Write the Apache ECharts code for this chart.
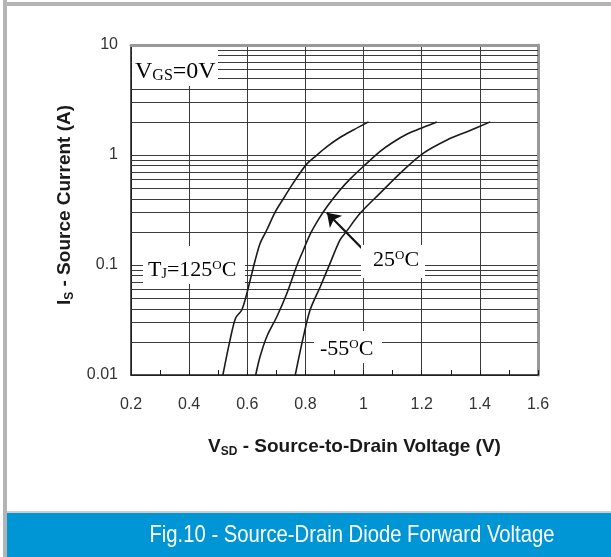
<!DOCTYPE html>
<html><head><meta charset="utf-8">
<script src="https://cdn.jsdelivr.net/npm/echarts@6/dist/echarts.min.js"></script>
<style>html,body{margin:0;padding:0;background:#fff}#c{width:611px;height:557px}</style>
</head><body><div id="c"></div>
<script>
// ---- data ----
const xTicks = [0.2, 0.4, 0.6, 0.8, 1, 1.2, 1.4, 1.6];
const yTickLabels = ['0.01', '0.1', '1', '10'];
const minorGridY = [0.02,0.03,0.04,0.05,0.06,0.07,0.08,0.09,0.2,0.3,0.4,0.5,0.6,0.7,0.8,0.9,2,3,4,5,6,7,8,9];

const v125 = [0.516,0.541,0.560,0.581,0.596,0.610,0.627,0.644,0.667,0.695,0.724,0.755,0.782,0.805,0.830,0.874,0.920,0.965,1.017];
const i125 = [0.010,0.021,0.033,0.039,0.052,0.073,0.110,0.157,0.208,0.300,0.400,0.540,0.690,0.830,0.950,1.19,1.45,1.69,2.00];

const v25 = [0.629,0.644,0.667,0.702,0.736,0.770,0.793,0.816,0.845,0.874,0.919,0.955,1.000,1.057,1.100,1.150,1.206,1.252];
const i25 = [0.010,0.0147,0.0223,0.034,0.055,0.098,0.137,0.190,0.260,0.339,0.481,0.610,0.790,1.08,1.30,1.55,1.79,2.00];

const vM55 = [0.765,0.793,0.816,0.851,0.885,0.919,0.940,0.988,1.057,1.130,1.206,1.287,1.356,1.436];
const iM55 = [0.010,0.0223,0.039,0.0635,0.104,0.169,0.200,0.295,0.450,0.700,1.04,1.37,1.63,2.00];

const arrowFrom = [1.011, 0.128];
const arrowTo = [0.874, 0.299];

const bannerTitle = 'Fig.10 - Source-Drain Diode Forward Voltage';

// ---- chart ----
const sans = '"Liberation Sans", Arial, sans-serif';
const serif = '"Liberation Serif", "Times New Roman", serif';
const ink = '#1a1a1a';
const gridCol = '#3a3a3a';

const chart = echarts.init(document.getElementById('c'));

const ctx = document.createElement('canvas').getContext('2d');
ctx.font = '24px "Liberation Sans Narrow", "Liberation Sans", sans-serif';
const bannerScale = 405 / ctx.measureText(bannerTitle).width;

function pairs(xs, ys) { return xs.map((x, k) => [x, ys[k]]); }

const curveStyle = { color: ink, width: 1.6 };

const serifRich = {
  a: { fontFamily: serif, fontSize: 22, lineHeight: 22, color: ink },
  sub: { fontFamily: serif, fontSize: 14, lineHeight: 14, color: ink, verticalAlign: 'bottom' },
  sup: { fontFamily: serif, fontSize: 13, lineHeight: 8, color: ink, verticalAlign: 'top' }
};

const titleRich = {
  a: { fontFamily: sans, fontSize: 19, fontWeight: 'bold', color: ink, lineHeight: 22 },
  s: { fontFamily: sans, fontSize: 12, fontWeight: 'bold', color: ink, lineHeight: 10, verticalAlign: 'bottom' }
};

chart.setOption({
  animation: false,
  grid: { left: 131, right: 73, top: 45, bottom: 182 },
  xAxis: [{
    type: 'value', min: 0.2, max: 1.6, interval: 0.2,
    axisLine: { lineStyle: { color: ink, width: 1.5 } },
    axisTick: { show: true, inside: true, length: 5, lineStyle: { color: ink } },
    minorTick: { show: true, splitNumber: 2, length: 5, lineStyle: { color: ink } },
    splitLine: { show: true, lineStyle: { color: gridCol, width: 1 } },
    axisLabel: { margin: 22, fontFamily: sans, fontSize: 16, color: '#333', showMinLabel: true, showMaxLabel: true,
      formatter: v => String(xTicks.find(t => Math.abs(t - v) < 1e-6) ?? v) },
    name: '{a|V}{s|SD}{a| - Source-to-Drain Voltage (V)}',
    nameLocation: 'middle', nameGap: 61,
    nameTextStyle: { padding: [0, 0, 0, 40], rich: titleRich }
  }, {
    type: 'value', position: 'top', min: 0.2, max: 1.6,
    axisLine: { show: true, lineStyle: { color: '#999', width: 3 } },
    axisTick: { show: false }, axisLabel: { show: false }, splitLine: { show: false }
  }],
  yAxis: [{
    type: 'log', logBase: 10, min: 0.01, max: 10,
    axisLine: { show: true, lineStyle: { color: ink, width: 1.5 } },
    axisTick: { show: false },
    splitLine: { show: true, lineStyle: { color: gridCol, width: 1 } },
    axisLabel: { margin: 13, fontFamily: sans, fontSize: 16, color: '#333',
      formatter: v => yTickLabels.find(t => Math.abs(+t - v) / v < 1e-6) || '' },
    name: '{a|I}{s|S}{a| - Source Current (A)}',
    nameLocation: 'middle', nameGap: 54, nameRotate: 90,
    nameTextStyle: { padding: [0, 0, 0, 10], rich: titleRich }
  }, {
    type: 'value', position: 'right', min: 0, max: 1,
    axisLine: { show: true, lineStyle: { color: '#999', width: 3 } },
    axisTick: { show: false }, axisLabel: { show: false }, splitLine: { show: false }
  }],
  series: [
    { name: 'TJ=125', type: 'line', data: pairs(v125, i125), smooth: 0.3, symbol: 'none', lineStyle: curveStyle, z: 5,
      markLine: { silent: true, symbol: 'none', animation: false, label: { show: false },
        lineStyle: { color: gridCol, width: 1, type: 'solid' }, emphasis: { disabled: true },
        data: minorGridY.map(v => ({ yAxis: v })) } },
    { name: 'TJ=25', type: 'line', data: pairs(v25, i25), smooth: 0.3, symbol: 'none', lineStyle: curveStyle, z: 5,
      markLine: { silent: true, symbol: ['none', 'arrow'], symbolSize: 13, animation: false, label: { show: false },
        lineStyle: { color: '#111', width: 2.2, type: 'solid' }, emphasis: { disabled: true },
        data: [[{ coord: arrowFrom }, { coord: arrowTo }]] } },
    { name: 'TJ=-55', type: 'line', data: pairs(vM55, iM55), smooth: 0.3, symbol: 'none', lineStyle: curveStyle, z: 5 }
  ],
  graphic: [
    // frame
    { type: 'rect', shape: { x: 3, y: 0, width: 4, height: 557 }, style: { fill: '#b4b4b4' }, z: 100 },
    { type: 'rect', shape: { x: 3, y: 2, width: 608, height: 4 }, style: { fill: '#b4b4b4' }, z: 100 },
    // banner
    { type: 'rect', shape: { x: 7, y: 511, width: 604, height: 2 }, style: { fill: '#cfcfcf' }, z: 100 },
    { type: 'rect', shape: { x: 7, y: 513, width: 604, height: 44 }, style: { fill: '#0096d6' }, z: 100 },
    { type: 'text', x: 352, y: 535, scaleX: bannerScale, z: 101,
      style: { text: bannerTitle, fill: '#fff', font: '24px "Liberation Sans Narrow", "Liberation Sans", sans-serif',
        align: 'center', verticalAlign: 'middle' } },
    // label backgrounds
    { type: 'rect', shape: { x: 132, y: 47, width: 86, height: 39 }, style: { fill: '#fff' }, z: 50 },
    { type: 'rect', shape: { x: 143, y: 246, width: 102, height: 38 }, style: { fill: '#fff' }, z: 50 },
    { type: 'rect', shape: { x: 361, y: 245, width: 64, height: 33 }, style: { fill: '#fff' }, z: 50 },
    { type: 'rect', shape: { x: 314, y: 331, width: 68, height: 32 }, style: { fill: '#fff' }, z: 50 },
    // labels
    { type: 'text', x: 135, y: 72, z: 60, style: { text: '{a|V}{sub|GS}{a|=0V}', verticalAlign: 'middle',
      rich: { a: { fontFamily: serif, fontSize: 24, lineHeight: 24, color: ink },
              sub: { fontFamily: serif, fontSize: 16, lineHeight: 16, color: ink, verticalAlign: 'bottom' } } } },
    { type: 'text', x: 148, y: 270, z: 60, style: { text: '{a|T}{sub|J}{a|=125}{sup|O}{a|C}', verticalAlign: 'middle', rich: serifRich } },
    { type: 'text', x: 373, y: 260, z: 60, style: { text: '{a|25}{sup|O}{a|C}', verticalAlign: 'middle', rich: serifRich } },
    { type: 'text', x: 320, y: 349, z: 60, style: { text: '{a|-55}{sup|O}{a|C}', verticalAlign: 'middle', rich: serifRich } }
  ]
});
</script>
</body></html>
